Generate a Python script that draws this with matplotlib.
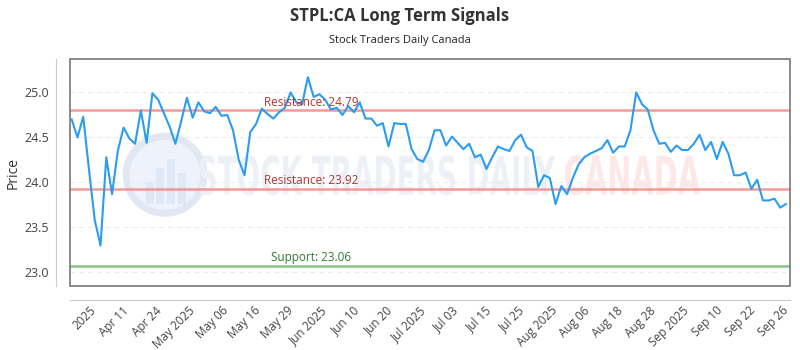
import numpy as np
import matplotlib
matplotlib.use("Agg")
import matplotlib.pyplot as plt
from matplotlib.patches import Rectangle, Ellipse, PathPatch
from matplotlib.textpath import TextPath
from matplotlib.font_manager import FontProperties
from matplotlib.transforms import Affine2D

plt.rcParams['font.family'] = ['Open Sans', 'DejaVu Sans']

# closing prices (one per trading day)
prices = [
    24.69, 24.49, 24.72, 24.13, 23.57, 23.29, 24.27, 23.86, 24.34, 24.60,
    24.48, 24.42, 24.79, 24.43, 24.98, 24.91, 24.76, 24.61, 24.42, 24.67,
    24.93, 24.71, 24.88, 24.78, 24.76, 24.83, 24.73, 24.74, 24.57, 24.24,
    24.07, 24.55, 24.64, 24.81, 24.75, 24.70, 24.77, 24.82, 24.99, 24.88,
    24.86, 25.16, 24.94, 24.97, 24.91, 24.80, 24.82, 24.74, 24.84, 24.77,
    24.88, 24.70, 24.70, 24.62, 24.65, 24.39, 24.65, 24.64, 24.64, 24.36,
    24.25, 24.22, 24.35, 24.57, 24.57, 24.40, 24.50, 24.43, 24.36, 24.42,
    24.27, 24.30, 24.14, 24.27, 24.39, 24.36, 24.34, 24.46, 24.52, 24.38,
    24.34, 23.94, 24.07, 24.04, 23.75, 23.95, 23.86, 24.04, 24.19, 24.27,
    24.31, 24.34, 24.37, 24.46, 24.32, 24.39, 24.39, 24.57, 24.99, 24.86,
    24.80, 24.57, 24.42, 24.43, 24.33, 24.40, 24.35, 24.35, 24.42, 24.52,
    24.35, 24.44, 24.25, 24.44, 24.31, 24.07, 24.07, 24.10, 23.92, 24.02,
    23.79, 23.79, 23.81, 23.71, 23.75,
]
tick_labels = ['2025', 'Apr 11', 'Apr 24', 'May 2025', 'May 06', 'May 16', 'May 29',
               'Jun 2025', 'Jun 10', 'Jun 20', 'Jul 2025', 'Jul 03', 'Jul 15', 'Jul 25',
               'Aug 2025', 'Aug 06', 'Aug 18', 'Aug 28', 'Sep 2025', 'Sep 10',
               'Sep 22', 'Sep 26']
resistance = [24.79, 23.92]
support = [23.06]

x = np.arange(len(prices))

fig = plt.figure(figsize=(8, 3.5), dpi=100)
ax = fig.add_axes([0.0875, 0.183, 0.9, 0.648])

# spines first: moving them resets the ticks
for side in ['top', 'right']:
    ax.spines[side].set_visible(False)
for side in ['left', 'bottom']:
    ax.spines[side].set_position(('outward', 10))
    ax.spines[side].set_color('#cccccc')


def watermark(txt, box, color):
    # squeeze the text into a box given in axes fractions (x0, y0, x1, y1)
    tp = TextPath((0, 0), txt, size=1, prop=FontProperties(family='DejaVu Sans', weight='bold'))
    ext = tp.get_extents()
    tr = (Affine2D().translate(-ext.x0, -ext.y0)
          .scale((box[2] - box[0]) / ext.width, (box[3] - box[1]) / ext.height)
          .translate(box[0], box[1]))
    ax.add_patch(PathPatch(tr.transform_path(tp), transform=ax.transAxes,
                           facecolor=color, edgecolor='none', zorder=0))


ax.add_patch(Ellipse((0.132, 0.49), 0.108, 0.34, transform=ax.transAxes, facecolor='#eef3fb',
                     edgecolor='#e1e8f3', lw=5, zorder=0))
for bx, bh in zip([0.105, 0.12, 0.135, 0.15], [0.10, 0.16, 0.2, 0.14]):
    ax.add_patch(Rectangle((bx, 0.36), 0.011, bh, transform=ax.transAxes,
                           facecolor='#dfe8f5', edgecolor='none', zorder=0))
watermark('STOCK TRADERS DAILY', (0.18, 0.40, 0.674, 0.577), '#edf1f7')
watermark('CANADA', (0.6875, 0.40, 0.875, 0.577), '#fde8e8')

ax.plot(x, prices, color='#2b9cf2', lw=1.5, zorder=3)

for r in resistance:
    ax.axhline(r, color='#f08a84', lw=1.8, alpha=0.85, zorder=2)
    ax.text(41.5, r + 0.02, 'Resistance: {}'.format(r), ha='center', va='bottom',
            fontsize=8.5, color='#b5332e', zorder=4)
for s in support:
    ax.axhline(s, color='#7cbf7c', lw=1.8, alpha=0.9, zorder=2)
    ax.text(41.5, s + 0.02, 'Support: {}'.format(s), ha='center', va='bottom',
            fontsize=8.5, color='#2e7d32', zorder=4)

ax.set_xlim(-0.3, len(prices) - 0.3)
ax.set_ylim(22.84, 25.36)
ax.set_yticks([23.0, 23.5, 24.0, 24.5, 25.0])
ax.yaxis.grid(True, linestyle=(0, (4, 4)), color='#ebebeb', lw=0.8)
ax.set_axisbelow(True)

ax.tick_params(axis='y', labelsize=9, labelcolor='#444444', length=0, pad=5)
ax.tick_params(axis='x', length=0, pad=3, labelsize=8.5, labelcolor='#444444')
ticks = np.linspace(3.1, 123.2, len(tick_labels))
ax.set_xticks(ticks)
ax.set_xticklabels(tick_labels, rotation=45, ha='right', rotation_mode='anchor')

ax.add_patch(Rectangle((0, 0), 1, 1, transform=ax.transAxes, fill=False,
                       edgecolor='#777777', lw=1.2, zorder=5, clip_on=False))

ax.set_ylabel('Price', fontsize=10, color='#333333')
ax.yaxis.set_label_coords(-0.068, 0.5)
fig.text(0.5, 0.955, 'STPL:CA Long Term Signals', ha='center', va='center',
         fontsize=12, fontweight='bold', color='#333333')
fig.text(0.5, 0.885, 'Stock Traders Daily Canada', ha='center', va='center',
         fontsize=8, color='#222222')

fig.savefig('out.png', dpi=100)
